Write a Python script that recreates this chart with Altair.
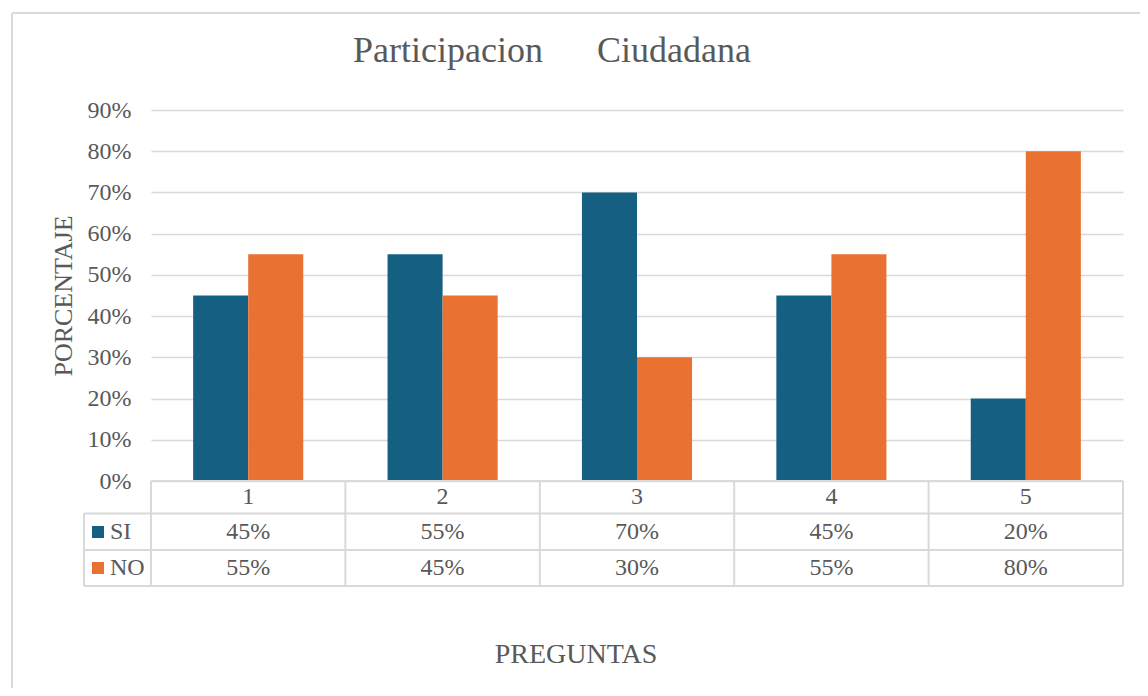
import altair as alt
import pandas as pd

# ---- data ----
preguntas = ["1", "2", "3", "4", "5"]
series = ["SI", "NO"]
si_vals = [0.45, 0.55, 0.70, 0.45, 0.20]
no_vals = [0.55, 0.45, 0.30, 0.55, 0.80]
y_ticks = [0, 0.1, 0.2, 0.3, 0.4, 0.5, 0.6, 0.7, 0.8, 0.9]
colors = ["#156082", "#E97132"]

title_text = "Participacion" + "\u00a0" * 6 + "Ciudadana"
y_title = "PORCENTAJE"
x_title = "PREGUNTAS"

# ---- layout ----
W, H = 972, 371
FONT = "Liberation Serif"
TXT = "#595959"
LINE = "#D9D9D9"
step = W / len(preguntas)

df = pd.DataFrame(
    [{"q": q, "serie": "SI", "val": v} for q, v in zip(preguntas, si_vals)]
    + [{"q": q, "serie": "NO", "val": v} for q, v in zip(preguntas, no_vals)]
)
df_q = pd.DataFrame({"q": preguntas})
df_si = pd.DataFrame({"q": preguntas, "val": si_vals})
df_no = pd.DataFrame({"q": preguntas, "val": no_vals})
dummy = pd.DataFrame({"d": [0]})

xenc = alt.X("q:N", sort=preguntas, axis=None,
             scale=alt.Scale(paddingInner=0.4336, paddingOuter=0.2168))

bars = alt.Chart(df).mark_bar().encode(
    x=xenc,
    xOffset=alt.XOffset("serie:N", sort=series,
                        scale=alt.Scale(paddingInner=0, paddingOuter=0)),
    y=alt.Y("val:Q",
            scale=alt.Scale(domain=[0, 0.9], nice=False, zero=True),
            axis=alt.Axis(values=y_ticks, format=".0%", title=y_title,
                          domain=False, ticks=False, labelPadding=20,
                          labelFont=FONT, labelFontSize=24, labelColor=TXT,
                          gridColor=LINE, gridWidth=1.5,
                          titleFont=FONT, titleFontSize=26, titleColor=TXT,
                          titleFontWeight="normal", titleAngle=270,
                          titleX=-87.5, titleY=H / 2, titleAlign="center",
                          titleBaseline="middle")),
    color=alt.Color("serie:N", scale=alt.Scale(domain=series, range=colors),
                    legend=None),
)

def txt(data, y, text_field, fmt=None):
    t = alt.Text(text_field, format=fmt) if fmt else alt.Text(text_field)
    return alt.Chart(data).mark_text(font=FONT, fontSize=24, color=TXT,
                                     baseline="middle").encode(
        x=xenc, y=alt.value(y), text=t)

header = txt(df_q, 387, "q:N")
row_si = txt(df_si, 422, "val:Q", ".0%")
row_no = txt(df_no, 458, "val:Q", ".0%")

def rule(x, x2, y, y2, color=LINE, w=2):
    return alt.Chart(dummy).mark_rule(color=color, strokeWidth=w).encode(
        x=alt.value(x), x2=alt.value(x2), y=alt.value(y), y2=alt.value(y2))

r_top, r_h1, r_h2, r_h3 = 371, 403.5, 440, 476
lines = [
    rule(0, W, r_top, r_top),
    rule(-67, W, r_h1, r_h1),
    rule(-67, W, r_h2, r_h2),
    rule(-67, W, r_h3, r_h3),
    rule(-67, -67, r_h1, r_h3),
]
for k in range(len(preguntas) + 1):
    lines.append(rule(k * step, k * step, r_top, r_h3))

# outer frame (top and left edges; the rest lies outside the picture)
frame = [rule(-139, W + 200, -97, -97), rule(-139, -139, -97, H + 400)]

def square(y, color):
    return alt.Chart(dummy).mark_rect(color=color).encode(
        x=alt.value(-59), x2=alt.value(-47), y=alt.value(y - 6), y2=alt.value(y + 6))

def label(y, s, size=24, align="left", x=-41, baseline="middle"):
    return alt.Chart(dummy).mark_text(font=FONT, fontSize=size, color=TXT,
                                      align=align, baseline=baseline).encode(
        x=alt.value(x), y=alt.value(y), text=alt.value(s))

legend = [square(422, colors[0]), square(458, colors[1]),
          label(422, series[0]), label(458, series[1])]

title = label(-48, title_text, size=36, x=202, baseline="alphabetic")
xtitle = label(553, x_title, size=28, align="center", x=425, baseline="alphabetic")

chart = alt.layer(bars, header, row_si, row_no, *lines, *frame, *legend,
                  title, xtitle).properties(
    width=W, height=H,
    autosize=alt.AutoSizeParams(type="none"),
    padding={"left": 143, "top": 102, "right": 17, "bottom": 207},
    background="white",
).configure_view(stroke=None)

chart.save("out.html", embed_options={"renderer": "svg", "actions": False})
